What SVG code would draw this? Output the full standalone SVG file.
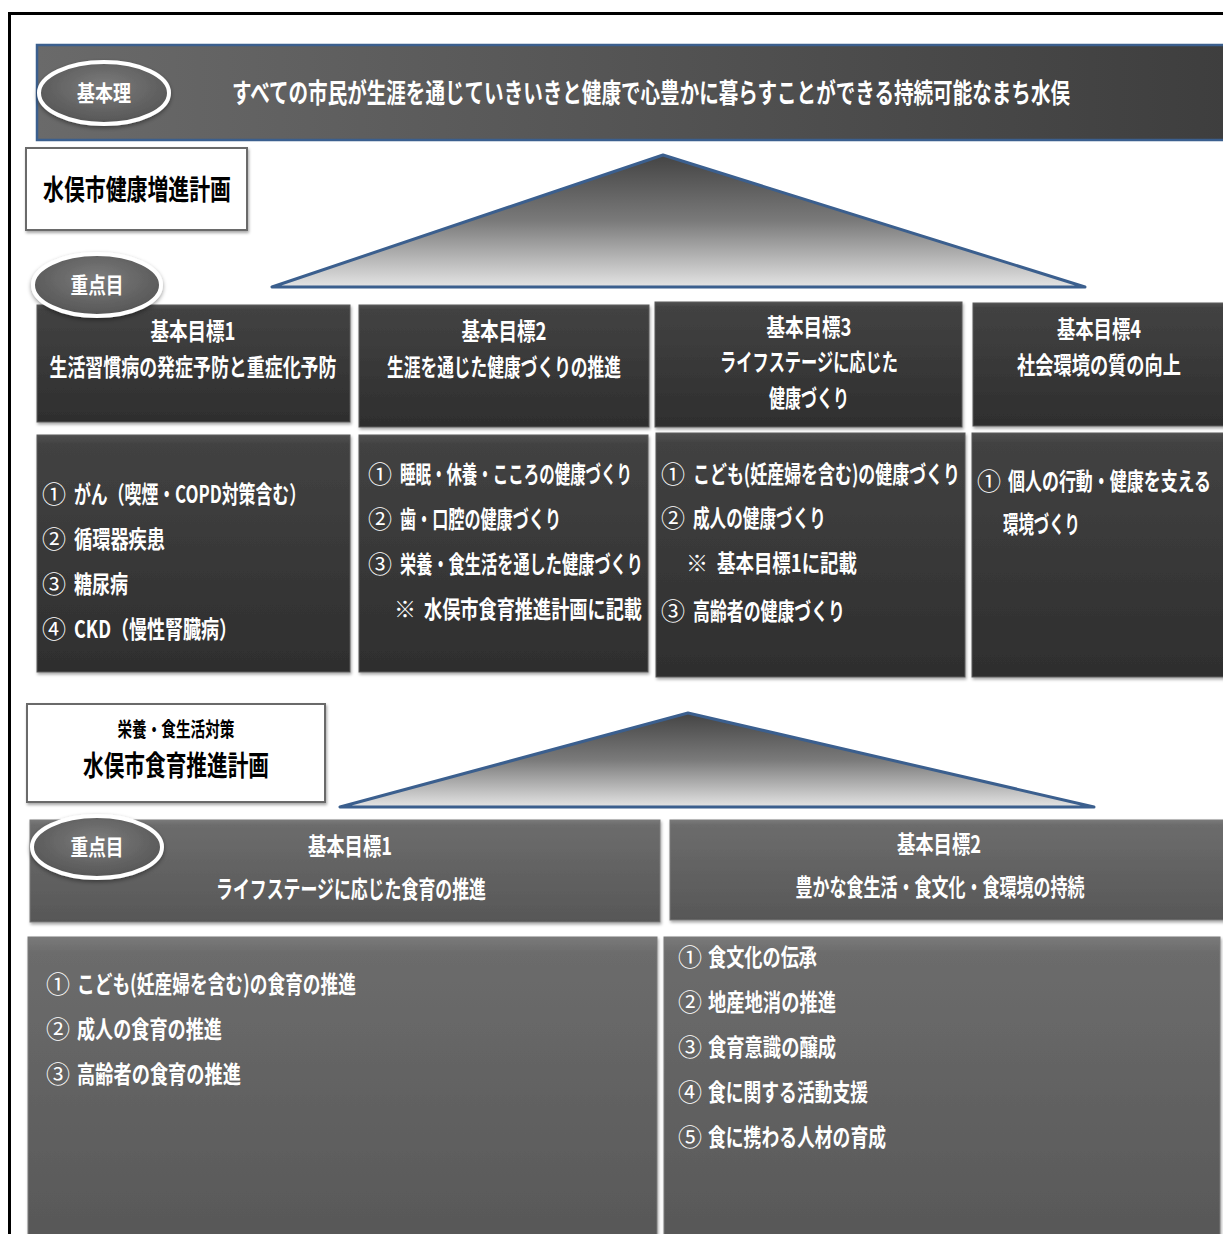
<svg xmlns="http://www.w3.org/2000/svg" width="1223" height="1234" viewBox="0 0 1223 1234">
<defs>
<style>
text{font-family:"Noto Sans CJK JP","Noto Sans",sans-serif;font-weight:bold;dominant-baseline:central}
.w{fill:#ffffff}
.b{fill:#000000}
.c{text-anchor:middle}
.n{font-weight:normal}
.dark{fill:url(#gDark);stroke:#5a5a5a;stroke-width:1;filter:url(#sh)}
.mid{fill:url(#gMid);stroke:#7a7a7a;stroke-width:1;filter:url(#sh)}
.lbl{fill:#ffffff;stroke:#6a6a6a;stroke-width:2;filter:url(#sh)}
.tri{fill:url(#gTri);stroke:#3b5f8e;stroke-width:3;stroke-linejoin:round}
.ell{fill:url(#gEll);stroke:#ffffff;stroke-width:4;filter:url(#sh2)}
</style>
<linearGradient id="gDark" x1="0" y1="0" x2="0" y2="1">
<stop offset="0" stop-color="#505050"/>
<stop offset="0.04" stop-color="#424242"/>
<stop offset="1" stop-color="#2e2e2e"/>
</linearGradient>
<linearGradient id="gMid" x1="0" y1="0" x2="0" y2="1">
<stop offset="0" stop-color="#7a7a7a"/>
<stop offset="0.05" stop-color="#6c6c6c"/>
<stop offset="1" stop-color="#575757"/>
</linearGradient>
<linearGradient id="gBan" x1="0" y1="0" x2="1" y2="0">
<stop offset="0" stop-color="#6a6a6a"/>
<stop offset="1" stop-color="#3e3e3e"/>
</linearGradient>
<linearGradient id="gTri" x1="0" y1="0" x2="0" y2="1">
<stop offset="0" stop-color="#444444"/>
<stop offset="0.5" stop-color="#7a7a7a"/>
<stop offset="1" stop-color="#e4e4e4"/>
</linearGradient>
<radialGradient id="gEll" cx="0.5" cy="0.4" r="0.6">
<stop offset="0" stop-color="#7c7c7c"/>
<stop offset="1" stop-color="#555555"/>
</radialGradient>
<filter id="sh" x="-5%" y="-5%" width="110%" height="115%">
<feDropShadow dx="1" dy="2" stdDeviation="1.5" flood-color="#000" flood-opacity="0.35"/>
</filter>
<filter id="sh2" x="-20%" y="-20%" width="140%" height="150%">
<feDropShadow dx="0" dy="2" stdDeviation="2" flood-color="#000" flood-opacity="0.4"/>
</filter>
</defs>
<rect width="1223" height="1234" fill="#ffffff"/>
<g id="frame">
<path d="M9.5 1234 V13.5 H1223" fill="none" stroke="#000" stroke-width="3"/>
</g>

<g id="banner">
<rect x="37" y="45" width="1190" height="95" fill="url(#gBan)" stroke="#3b5f8e" stroke-width="2.5"/>
<text class="w" x="232" y="91" font-size="27" textLength="838" lengthAdjust="spacingAndGlyphs">すべての市民が生涯を通じていきいきと健康で心豊かに暮らすことができる持続可能なまち水俣</text>
</g>
<g id="ellipse-kihonri">
<ellipse class="ell" cx="104" cy="93" rx="65" ry="31"/>
<text class="w c" x="104" y="91" font-size="22" textLength="54" lengthAdjust="spacingAndGlyphs">基本理</text>
</g>

<g id="label-kenko">
<rect class="lbl" x="26" y="148" width="221" height="82"/>
<text class="b c" x="137" y="188" font-size="28" textLength="188" lengthAdjust="spacingAndGlyphs">水俣市健康増進計画</text>
</g>

<g id="triangle-1">
<polygon class="tri" points="663,155 272,287 1085,287"/>
</g>

<g id="goal-1">
<rect class="dark" x="37" y="305" width="313" height="117"/>
<text class="w c" x="193" y="329" font-size="24" textLength="85" lengthAdjust="spacingAndGlyphs">基本目標1</text>
<text class="w c" x="193" y="365" font-size="24" textLength="287" lengthAdjust="spacingAndGlyphs">生活習慣病の発症予防と重症化予防</text>
</g>
<g id="ellipse-juten-1">
<ellipse class="ell" cx="97" cy="285" rx="64" ry="31"/>
<text class="w c" x="97" y="283" font-size="22" textLength="53" lengthAdjust="spacingAndGlyphs">重点目</text>
</g>
<g id="goal-2">
<rect class="dark" x="359" y="305" width="290" height="122"/>
<text class="w c" x="504" y="329" font-size="24" textLength="85" lengthAdjust="spacingAndGlyphs">基本目標2</text>
<text class="w c" x="504" y="365" font-size="24" textLength="234" lengthAdjust="spacingAndGlyphs">生涯を通じた健康づくりの推進</text>
</g>
<g id="goal-3">
<rect class="dark" x="655" y="302" width="307" height="125"/>
<text class="w c" x="809" y="325" font-size="24" textLength="85" lengthAdjust="spacingAndGlyphs">基本目標3</text>
<text class="w c" x="809" y="360" font-size="24" textLength="178" lengthAdjust="spacingAndGlyphs">ライフステージに応じた</text>
<text class="w c" x="809" y="396" font-size="24" textLength="80" lengthAdjust="spacingAndGlyphs">健康づくり</text>
</g>
<g id="goal-4">
<rect class="dark" x="973" y="303" width="260" height="123"/>
<text class="w c" x="1099" y="327" font-size="24" textLength="84" lengthAdjust="spacingAndGlyphs">基本目標4</text>
<text class="w c" x="1099" y="363" font-size="24" textLength="164" lengthAdjust="spacingAndGlyphs">社会環境の質の向上</text>
</g>

<g id="items-1">
<rect class="dark" x="37" y="435" width="313" height="237"/>
<text class="w n" x="42" y="492" font-size="24">①</text>
<text class="w" x="74" y="492" font-size="24" textLength="232" lengthAdjust="spacingAndGlyphs">がん（喫煙・COPD対策含む）</text>
<text class="w n" x="42" y="537" font-size="24">②</text>
<text class="w" x="74" y="537" font-size="24" textLength="91" lengthAdjust="spacingAndGlyphs">循環器疾患</text>
<text class="w n" x="42" y="582" font-size="24">③</text>
<text class="w" x="74" y="582" font-size="24" textLength="54" lengthAdjust="spacingAndGlyphs">糖尿病</text>
<text class="w n" x="42" y="627" font-size="24">④</text>
<text class="w" x="74" y="627" font-size="24" textLength="163" lengthAdjust="spacingAndGlyphs">CKD（慢性腎臓病）</text>
</g>
<g id="items-2">
<rect class="dark" x="359" y="435" width="289" height="237"/>
<text class="w n" x="368" y="472" font-size="24">①</text>
<text class="w" x="400" y="472" font-size="24" textLength="232" lengthAdjust="spacingAndGlyphs">睡眠・休養・こころの健康づくり</text>
<text class="w n" x="368" y="517" font-size="24">②</text>
<text class="w" x="400" y="517" font-size="24" textLength="161" lengthAdjust="spacingAndGlyphs">歯・口腔の健康づくり</text>
<text class="w n" x="368" y="562" font-size="24">③</text>
<text class="w" x="400" y="562" font-size="24" textLength="243" lengthAdjust="spacingAndGlyphs">栄養・食生活を通した健康づくり</text>
<text class="w" x="394" y="607" font-size="22">※</text>
<text class="w" x="424" y="607" font-size="24" textLength="218" lengthAdjust="spacingAndGlyphs">水俣市食育推進計画に記載</text>
</g>
<g id="items-3">
<rect class="dark" x="656" y="433" width="309" height="244"/>
<text class="w n" x="661" y="472" font-size="24">①</text>
<text class="w" x="693" y="472" font-size="24" textLength="267" lengthAdjust="spacingAndGlyphs">こども(妊産婦を含む)の健康づくり</text>
<text class="w n" x="661" y="516" font-size="24">②</text>
<text class="w" x="693" y="516" font-size="24" textLength="133" lengthAdjust="spacingAndGlyphs">成人の健康づくり</text>
<text class="w" x="686" y="561" font-size="22">※</text>
<text class="w" x="717" y="561" font-size="24" textLength="140" lengthAdjust="spacingAndGlyphs">基本目標1に記載</text>
<text class="w n" x="661" y="609" font-size="24">③</text>
<text class="w" x="693" y="609" font-size="24" textLength="152" lengthAdjust="spacingAndGlyphs">高齢者の健康づくり</text>
</g>
<g id="items-4">
<rect class="dark" x="972" y="433" width="260" height="244"/>
<text class="w n" x="977" y="479" font-size="24">①</text>
<text class="w" x="1008" y="479" font-size="24" textLength="203" lengthAdjust="spacingAndGlyphs">個人の行動・健康を支える</text>
<text class="w" x="1003" y="522" font-size="24" textLength="77" lengthAdjust="spacingAndGlyphs">環境づくり</text>
</g>

<g id="label-shokuiku">
<rect class="lbl" x="27" y="704" width="298" height="98"/>
<text class="b c" x="176" y="728" font-size="20" textLength="117" lengthAdjust="spacingAndGlyphs">栄養・食生活対策</text>
<text class="b c" x="176" y="764" font-size="28" textLength="186" lengthAdjust="spacingAndGlyphs">水俣市食育推進計画</text>
</g>

<g id="triangle-2">
<polygon class="tri" points="688,713 340,807 1094,807"/>
</g>

<g id="food-goal-1">
<rect class="mid" x="30" y="820" width="630" height="102"/>
<text class="w c" x="350" y="844" font-size="24" textLength="84" lengthAdjust="spacingAndGlyphs">基本目標1</text>
<text class="w c" x="351" y="887" font-size="24" textLength="270" lengthAdjust="spacingAndGlyphs">ライフステージに応じた食育の推進</text>
</g>
<g id="ellipse-juten-2">
<ellipse class="ell" cx="97" cy="847" rx="65" ry="31"/>
<text class="w c" x="97" y="845" font-size="22" textLength="53" lengthAdjust="spacingAndGlyphs">重点目</text>
</g>
<g id="food-goal-2">
<rect class="mid" x="670" y="820" width="560" height="100"/>
<text class="w c" x="939" y="842" font-size="24" textLength="84" lengthAdjust="spacingAndGlyphs">基本目標2</text>
<text class="w c" x="940" y="885" font-size="24" textLength="289" lengthAdjust="spacingAndGlyphs">豊かな食生活・食文化・食環境の持続</text>
</g>

<g id="food-items-1">
<rect class="mid" x="28" y="937" width="629" height="310"/>
<text class="w n" x="46" y="982" font-size="24">①</text>
<text class="w" x="77" y="982" font-size="24" textLength="279" lengthAdjust="spacingAndGlyphs">こども(妊産婦を含む)の食育の推進</text>
<text class="w n" x="46" y="1027" font-size="24">②</text>
<text class="w" x="77" y="1027" font-size="24" textLength="145" lengthAdjust="spacingAndGlyphs">成人の食育の推進</text>
<text class="w n" x="46" y="1072" font-size="24">③</text>
<text class="w" x="77" y="1072" font-size="24" textLength="164" lengthAdjust="spacingAndGlyphs">高齢者の食育の推進</text>
</g>
<g id="food-items-2">
<rect class="mid" x="664" y="937" width="556" height="310"/>
<text class="w n" x="678" y="955" font-size="24">①</text>
<text class="w" x="708" y="955" font-size="24" textLength="109" lengthAdjust="spacingAndGlyphs">食文化の伝承</text>
<text class="w n" x="678" y="1000" font-size="24">②</text>
<text class="w" x="708" y="1000" font-size="24" textLength="128" lengthAdjust="spacingAndGlyphs">地産地消の推進</text>
<text class="w n" x="678" y="1045" font-size="24">③</text>
<text class="w" x="708" y="1045" font-size="24" textLength="128" lengthAdjust="spacingAndGlyphs">食育意識の醸成</text>
<text class="w n" x="678" y="1090" font-size="24">④</text>
<text class="w" x="708" y="1090" font-size="24" textLength="160" lengthAdjust="spacingAndGlyphs">食に関する活動支援</text>
<text class="w n" x="678" y="1135" font-size="24">⑤</text>
<text class="w" x="708" y="1135" font-size="24" textLength="178" lengthAdjust="spacingAndGlyphs">食に携わる人材の育成</text>
</g>
</svg>
